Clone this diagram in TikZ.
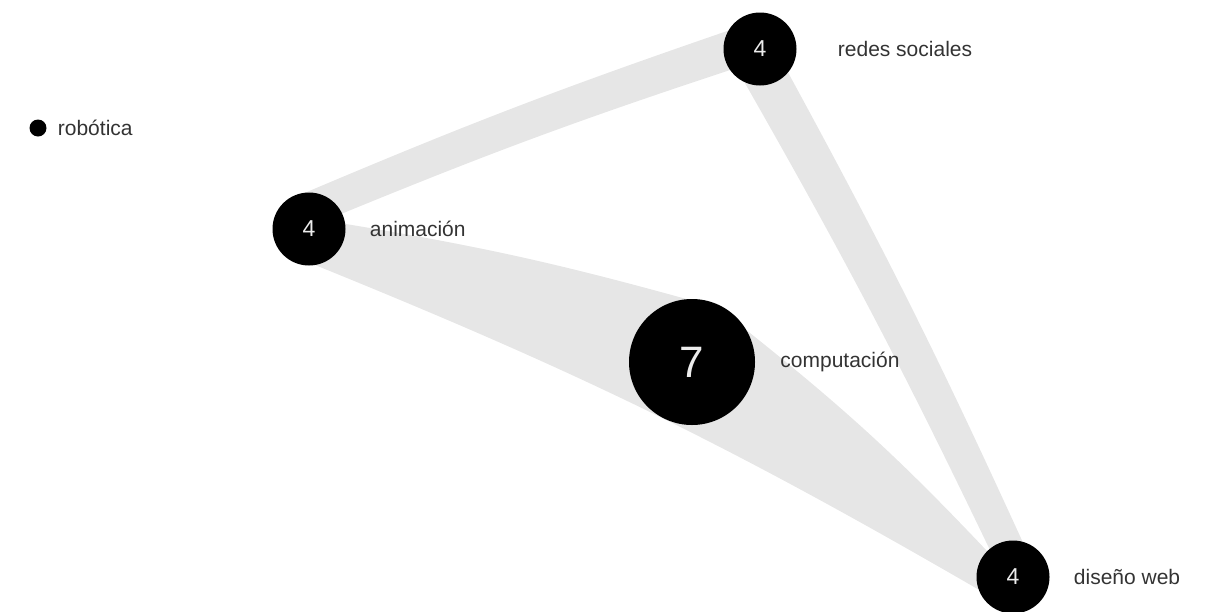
\documentclass[tikz,border=0pt]{standalone}
\usepackage{fontspec}
\setmainfont{Liberation Sans}
\usetikzlibrary{positioning, backgrounds}
\definecolor{bandgray}{HTML}{E6E6E6}
\definecolor{txtgray}{HTML}{333333}
\tikzset{
  hub/.style     ={circle, fill=black, inner sep=0pt, minimum size=73pt,
                   text=gray!15, font=\fontsize{23}{23}\selectfont},
  bighub/.style  ={hub, minimum size=126pt, font=\fontsize{44}{44}\selectfont},
  smalldot/.style={circle, fill=black, inner sep=0pt, minimum size=17pt},
  lbl/.style     ={inner sep=0pt, text=txtgray, font=\fontsize{21}{21}\selectfont},
  bandfill/.style={fill=bandgray}
}

\begin{document}
\begin{tikzpicture}[x=1pt, y=1pt]
    \useasboundingbox (0,0) rectangle (1218,-611);
    \node[hub] (anim) at (309,-229) {4};
    \node[hub] (redes) at (760,-49) {4};
    \node[bighub] (comp) at (692,-362) {7};
    \node[hub] (web) at (1013,-577) {4};
    \node[smalldot] (robo) at (38,-128) {};
    \node[lbl, right=11pt of robo] (robo-lbl) {robótica};
    \node[lbl, right=24pt of anim] (anim-lbl) {animación};
    \node[lbl, right=41pt of redes] (redes-lbl) {redes sociales};
    \node[lbl, right=25pt of comp] (comp-lbl) {computación};
    \node[lbl, right=24pt of web] (web-lbl) {diseño web};
    % bands behind the nodes
    \begin{scope}[on background layer]
      \fill[bandfill] (anim.95) to[bend left=2] (redes.150) -- (redes.215) to[bend right=2] (anim.25) -- cycle;
      \fill[bandfill] (anim.8) to[bend left=3] (comp.95) -- (comp.200) to[bend right=3] (anim.-50) -- cycle;
      \fill[bandfill] (anim.-10) to[bend left=4] (web.150) -- (web.200) to[bend right=4] (anim.-80) -- cycle;
      \fill[bandfill] (comp.30) to[bend left=4] (web.135) -- (web.190) to[bend right=4] (comp.-60) -- cycle;
      \fill[bandfill] (redes.-115) to[bend left=2] (web.130) -- (web.75) to[bend right=2] (redes.-40) -- cycle;
    \end{scope}
\end{tikzpicture}
\end{document}
